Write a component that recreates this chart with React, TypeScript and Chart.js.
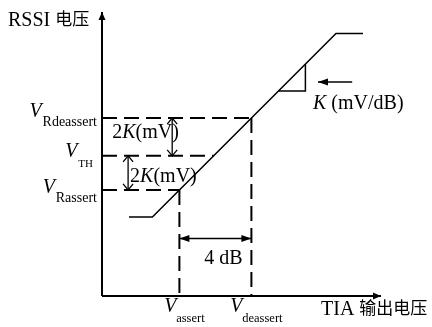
import { useEffect, useRef } from "react";
import { Chart, registerables } from "chart.js";

Chart.register(...registerables);

// Axis extents: x is TIA output (dB), y is RSSI voltage (in units of K mV)
const xAxisEnd = 15.5;
const yAxisEnd = 15.8;

// Threshold levels
const vAssert = 4.3;
const vDeassert = 8.3; // vAssert + 4 dB
const vRassert = 5.9;
const vTH = 7.8;
const vRdeassert = 9.9;
const thDashEnd = 6.2;

// RSSI transfer curve: floor, linear region (slope K), ceiling
const curveX = [1.5, 2.8, 13.0, 14.5];
const curveY = [4.4, 4.4, 14.6, 14.6];

// Slope marker triangle on the linear region
const slopeX = [9.8, 11.3, 11.3];
const slopeY = [11.4, 11.4, 12.9];

// Arrow pointing at the slope marker
const slopeArrowX = [13.9, 12.0];
const slopeArrowY = [11.9, 11.9];

// Dimension arrows
const upperSpanX = 3.9; // vTH .. vRdeassert
const lowerSpanX = 1.45; // vRassert .. vTH
const dbSpanY = 3.2; // vAssert .. vDeassert

const SERIF = '"Liberation Serif", "Times New Roman", serif';
const CJK = '"Noto Sans CJK SC", sans-serif';

type Pt = { x: number; y: number };
const zip = (xs: number[], ys: number[]): Pt[] => xs.map((x, i) => ({ x, y: ys[i] }));

type Head = { start?: boolean; end?: boolean; open?: boolean; len: number; half: number };

const arrowPlugin = {
  id: "arrowHeads",
  afterDatasetsDraw(chart: any) {
    const ctx: CanvasRenderingContext2D = chart.ctx;
    ctx.save();
    chart.data.datasets.forEach((ds: any, i: number) => {
      const head: Head | undefined = ds.head;
      if (!head) return;
      const els = chart.getDatasetMeta(i).data;
      const n = els.length;
      const draw = (tip: any, from: any) => {
        const a = Math.atan2(tip.y - from.y, tip.x - from.x);
        const ux = Math.cos(a), uy = Math.sin(a);
        const bx = tip.x - ux * head.len, by = tip.y - uy * head.len;
        const p1 = [bx - uy * head.half, by + ux * head.half];
        const p2 = [bx + uy * head.half, by - ux * head.half];
        ctx.beginPath();
        ctx.moveTo(p1[0], p1[1]);
        ctx.lineTo(tip.x, tip.y);
        ctx.lineTo(p2[0], p2[1]);
        if (head.open) {
          ctx.strokeStyle = "#000";
          ctx.lineWidth = 1.3;
          ctx.stroke();
        } else {
          ctx.closePath();
          ctx.fillStyle = "#000";
          ctx.fill();
        }
      };
      if (head.end) draw(els[n - 1], els[n - 2]);
      if (head.start) draw(els[0], els[1]);
    });
    ctx.restore();
  },
};

type Run = [string, string];

const labelPlugin = {
  id: "diagramLabels",
  afterDatasetsDraw(chart: any) {
    const ctx: CanvasRenderingContext2D = chart.ctx;
    const px = (v: number) => chart.scales.x.getPixelForValue(v);
    const py = (v: number) => chart.scales.y.getPixelForValue(v);
    const reg = (s: number) => `${s}px ${SERIF}`;
    const ital = (s: number) => `italic ${s}px ${SERIF}`;

    ctx.save();
    ctx.fillStyle = "#000";
    ctx.textBaseline = "alphabetic";
    ctx.textAlign = "left";

    const width = (runs: Run[]) =>
      runs.reduce((w, [t, f]) => {
        ctx.font = f;
        return w + ctx.measureText(t).width;
      }, 0);
    const draw = (x0: number, y0: number, runs: Run[], dys: number[] = []) => {
      let cx = x0;
      runs.forEach(([t, f], k) => {
        ctx.font = f;
        ctx.fillText(t, cx, y0 + (dys[k] || 0));
        cx += ctx.measureText(t).width;
      });
    };

    const ox = px(0);
    const oy = py(0);

    // Axis titles
    draw(ox - 94, py(yAxisEnd) + 14, [["RSSI ", reg(20)], ["电压", `17px ${CJK}`]], [0, -1]);
    draw(px(xAxisEnd) - 60, oy + 19, [["TIA ", reg(20)], ["输出电压", `17px ${CJK}`]], [0, -1]);

    // Level labels on the RSSI axis
    const levels: [number, string, number, number, number, number][] = [
      [vRdeassert, "Rdeassert", 14, -1, 8, 5],
      [vTH, "TH", 11, 1, 11, 9],
      [vRassert, "Rassert", 14, 3, 12, 5],
    ];
    levels.forEach(([v, sub, size, dv, ds, gap]) => {
      const yy = py(v);
      ctx.font = reg(size);
      const sw = ctx.measureText(sub).width;
      const sx = ox - gap - sw;
      ctx.fillText(sub, sx, yy + ds);
      ctx.font = ital(20);
      ctx.fillText("V", sx - 13, yy + dv);
    });

    // Level labels on the TIA axis
    const marks: [number, string][] = [
      [vAssert, "assert"],
      [vDeassert, "deassert"],
    ];
    marks.forEach(([v, sub]) => {
      ctx.font = reg(12.5);
      const sw = ctx.measureText(sub).width;
      const total = 12 + sw;
      const x0 = px(v) + 5 - total / 2;
      ctx.font = ital(20);
      ctx.fillText("V", x0, oy + 16);
      ctx.font = reg(12.5);
      ctx.fillText(sub, x0 + 12, oy + 26);
    });

    // Slope annotation
    draw(px(slopeArrowX[1]) - 5, py(slopeArrowY[1]) + 27, [
      ["K", ital(20)],
      [" (mV/dB)", reg(20)],
    ]);

    // 2K spans
    const kRuns: Run[] = [
      ["2", reg(20)],
      ["K", ital(20)],
      ["(mV)", reg(20)],
    ];
    draw(px(upperSpanX) - 60, (py(vTH) + py(vRdeassert)) / 2 + 1, kRuns);
    draw(px(lowerSpanX) + 2, (py(vRassert) + py(vTH)) / 2 + 9, kRuns);

    // 4 dB span
    const dbRuns: Run[] = [["4 dB", reg(20)]];
    const dbW = width(dbRuns);
    draw((px(vAssert) + px(vDeassert)) / 2 + 8 - dbW / 2, py(dbSpanY) + 26, dbRuns);

    ctx.restore();
  },
};

export default function App() {
  const ref = useRef<HTMLCanvasElement>(null);

  useEffect(() => {
    const canvas = ref.current;
    if (!canvas) return;

    const line = (data: Pt[], extra: Record<string, unknown> = {}) => ({
      data,
      showLine: true,
      borderColor: "#000",
      backgroundColor: "#000",
      borderWidth: 1.5,
      pointRadius: 0,
      pointHoverRadius: 0,
      tension: 0,
      fill: false,
      clip: false,
      ...extra,
    });
    const dashed = { borderDash: [15, 7], borderWidth: 2 };

    const datasets: any[] = [
      // Guide lines at the threshold levels
      line(zip([0, vDeassert], [vRdeassert, vRdeassert]), dashed),
      line(zip([0, thDashEnd], [vTH, vTH]), dashed),
      line(zip([0, vAssert], [vRassert, vRassert]), dashed),
      line(zip([vAssert, vAssert], [vRassert, 0]), dashed),
      line(zip([vDeassert, vDeassert], [vRdeassert, 0]), dashed),
      // Transfer curve and slope marker
      line(zip(curveX, curveY), { borderWidth: 1.5 }),
      line(zip(slopeX, slopeY), { borderWidth: 1.5 }),
      // Axes
      line(zip([0, xAxisEnd], [0, 0]), { borderWidth: 2, head: { end: true, len: 8, half: 3.5 } }),
      line(zip([0, 0], [0, yAxisEnd]), { borderWidth: 2, head: { end: true, len: 8, half: 3.5 } }),
      // Annotation arrows
      line(zip(slopeArrowX, slopeArrowY), { borderWidth: 1.5, head: { end: true, len: 10, half: 3.5 } }),
      line(zip([upperSpanX, upperSpanX], [vTH, vRdeassert]), {
        borderWidth: 1.3,
        head: { start: true, end: true, open: true, len: 6, half: 5 },
      }),
      line(zip([lowerSpanX, lowerSpanX], [vRassert, vTH]), {
        borderWidth: 1.3,
        head: { start: true, end: true, open: true, len: 6, half: 5 },
      }),
      line(zip([vAssert, vDeassert], [dbSpanY, dbSpanY]), {
        borderWidth: 1.5,
        head: { start: true, end: true, len: 10, half: 3.5 },
      }),
    ];

    const chart = new Chart(canvas, {
      type: "scatter",
      data: { datasets },
      options: {
        responsive: false,
        animation: false,
        events: [],
        layout: { padding: { left: 102, right: 51, top: 12, bottom: 31 } },
        scales: {
          x: { type: "linear", display: false, min: 0, max: xAxisEnd },
          y: { type: "linear", display: false, min: 0, max: yAxisEnd },
        },
        plugins: { legend: { display: false }, tooltip: { enabled: false } },
      },
      plugins: [arrowPlugin, labelPlugin],
    } as any);

    return () => chart.destroy();
  }, []);

  return (
    <div style={{ position: "fixed", left: 0, top: 0, width: 432, height: 327, background: "#fff" }}>
      <canvas ref={ref} width={432} height={327} style={{ display: "block" }} />
    </div>
  );
}
